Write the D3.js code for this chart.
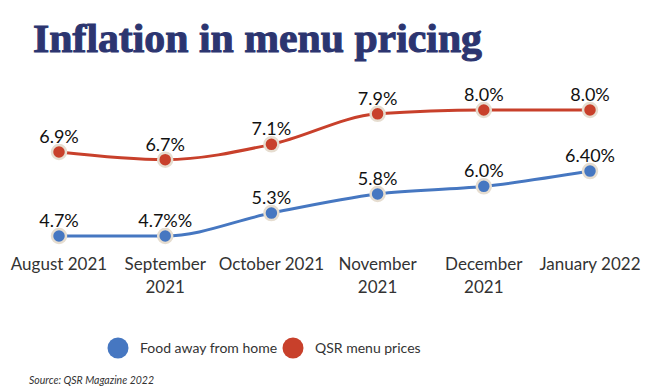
<!DOCTYPE html>
<html>
<head>
<meta charset="utf-8">
<script src="https://cdn.jsdelivr.net/npm/d3@7"></script>
<style>
	body { margin: 0; background: #fff; }
	text { font-family: Lato, "Open Sans", sans-serif; }
</style>
</head>
<body>
<svg id="chart" width="650" height="392"></svg>
<script>
'use strict'

var months = [['August 2021'], ['September', '2021'], ['October 2021'], ['November', '2021'], ['December', '2021'], ['January 2022']];
var foodAway = [4.7, 4.7, 5.3, 5.8, 6.0, 6.4];
var qsrMenu = [6.9, 6.7, 7.1, 7.9, 8.0, 8.0];
var foodLabels = ['4.7%', '4.7%%', '5.3%', '5.8%', '6.0%', '6.40%'];
var qsrLabels = ['6.9%', '6.7%', '7.1%', '7.9%', '8.0%', '8.0%'];
var seriesNames = ['Food away from home', 'QSR menu prices'];

var colors = { food: '#4677c1', qsr: '#c8402b' };

var svg = d3.select('#chart');

svg.append('text')
	.attr('x', 33)
	.attr('y', 52)
	.attr('font-weight', 'bold')
	.attr('font-size', 40)
	.attr('fill', '#2c3570')
	.attr('stroke', '#2c3570')
	.attr('stroke-width', 1)
	.attr('textLength', 449)
	.attr('lengthAdjust', 'spacingAndGlyphs')
	.style('font-family', '"Liberation Serif", serif')
	.text('Inflation in menu pricing');

var xScale = d3.scalePoint()
	.domain(d3.range(months.length))
	.range([59, 590]);

var yScale = d3.scaleLinear()
	.domain([4.7, 8.0])
	.range([236, 110]);

var line = d3.line()
	.x(function(d, i){ return xScale(i); })
	.y(function(d){ return yScale(d); })
	.curve(d3.curveMonotoneX);

function drawSeries(values, labels, color){
	var g = svg.append('g');

	g.append('path')
		.datum(values)
		.attr('d', line)
		.attr('fill', 'none')
		.attr('stroke', color)
		.attr('stroke-width', 3);

	g.selectAll('circle')
		.data(values)
		.enter()
		.append('circle')
		.attr('cx', function(d, i){ return xScale(i); })
		.attr('cy', function(d){ return yScale(d); })
		.attr('r', 7)
		.attr('fill', color)
		.attr('stroke', '#e6ddd0')
		.attr('stroke-width', 2.5);

	g.selectAll('text')
		.data(values)
		.enter()
		.append('text')
		.attr('x', function(d, i){ return xScale(i); })
		.attr('y', function(d){ return yScale(d) - 9; })
		.attr('text-anchor', 'middle')
		.attr('font-size', 18)
		.attr('fill', '#111')
		.text(function(d, i){ return labels[i]; });
}

drawSeries(qsrMenu, qsrLabels, colors.qsr);
drawSeries(foodAway, foodLabels, colors.food);

// x axis labels (no axis line in the original)
var xAxis = svg.append('g');
xAxis.selectAll('text')
	.data(months)
	.enter()
	.append('text')
	.attr('x', function(d, i){ return xScale(i); })
	.attr('y', 270)
	.attr('text-anchor', 'middle')
	.attr('font-size', 17)
	.attr('fill', '#333')
	.each(function(d){
		var t = d3.select(this);
		d.forEach(function(part, k){
			t.append('tspan')
				.attr('x', t.attr('x'))
				.attr('dy', k === 0 ? 0 : 23)
				.text(part);
		});
	});

// legend
var legend = svg.append('g');
var legendPos = [{ cx: 118, tx: 140, color: colors.food }, { cx: 293, tx: 315, color: colors.qsr }];
seriesNames.forEach(function(name, i){
	legend.append('circle')
		.attr('cx', legendPos[i].cx)
		.attr('cy', 348)
		.attr('r', 10.5)
		.attr('fill', legendPos[i].color);
	legend.append('text')
		.attr('x', legendPos[i].tx)
		.attr('y', 353)
		.attr('font-size', 14)
		.attr('fill', '#333')
		.text(name);
});

svg.append('text')
	.attr('x', 29)
	.attr('y', 384)
	.attr('font-size', 10.5)
	.attr('font-style', 'italic')
	.attr('fill', '#333')
	.text('Source: QSR Magazine 2022');
</script>
</body>
</html>
